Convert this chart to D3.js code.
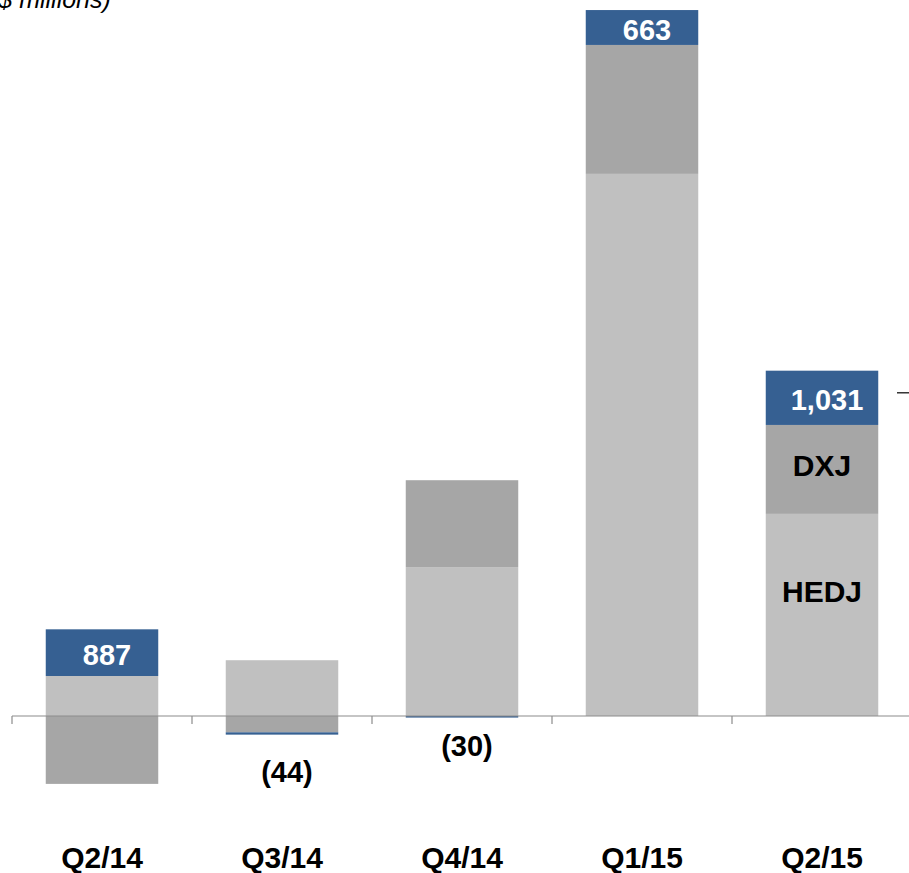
<!DOCTYPE html>
<html>
<head>
<meta charset="utf-8">
<script src="https://cdn.jsdelivr.net/npm/d3@7"></script>
<style>
    html, body { margin: 0; padding: 0; background: #fff; }
    #chart { width: 909px; height: 873px; overflow: hidden; }
    text { font-family: Arial, "Liberation Sans", sans-serif; }
</style>
</head>
<body>
<div id="chart"></div>
<script>
// Quartale und Zuflüsse in $ Mio. (aus dem Bild abgeschätzt)
const quarters = ["Q2/14", "Q3/14", "Q4/14", "Q1/15", "Q2/15"];
const hedj = [760, 1060, 2830, 10300, 3840];
const dxj = [-1290, -310, 1650, 2450, 1690];
const other = [887, -44, -30, 663, 1031];
const otherLabels = ["887", "(44)", "(30)", "663", "1,031"];

const keys = ["HEDJ", "DXJ", "Other"];
const colors = { HEDJ: "#c0c0c0", DXJ: "#a6a6a6", Other: "#366092" };

const rows = quarters.map((q, i) => ({ quarter: q, HEDJ: hedj[i], DXJ: dxj[i], Other: other[i] }));

function renderChart() {
    const container = document.getElementById("chart");
    const width = 909, height = 873;
    const zeroY = 716;

    const svg = d3.select(container)
        .append("svg")
        .attr("width", width)
        .attr("height", height);

    // ca. 19 $ Mio. pro Pixel, Nulllinie bei 716
    const perPx = 19;
    const y = d3.scaleLinear()
        .domain([-(height - zeroY) * perPx, zeroY * perPx])
        .range([height, 0]);

    const x = d3.scaleBand()
        .domain(quarters)
        .range([12, 912])
        .paddingInner(0.375)
        .paddingOuter(0.1875);

    const series = d3.stack()
        .keys(keys)
        .offset(d3.stackOffsetDiverging)(rows);

    svg.append("g")
        .selectAll("g")
        .data(series)
        .join("g")
        .attr("fill", s => colors[s.key])
        .selectAll("rect")
        .data(s => s)
        .join("rect")
        .attr("x", d => x(d.data.quarter))
        .attr("y", d => y(Math.max(d[0], d[1])))
        .attr("width", x.bandwidth())
        .attr("height", d => Math.abs(y(d[0]) - y(d[1])));

    // Achse mit Ticks zwischen den Kategorien
    const axis = svg.append("g");
    axis.append("line")
        .attr("x1", 12).attr("x2", width)
        .attr("y1", y(0)).attr("y2", y(0))
        .attr("stroke", "#8c8c8c")
        .attr("stroke-width", 1.2);
    axis.selectAll("line.tick")
        .data(quarters)
        .join("line")
        .attr("class", "tick")
        .attr("x1", d => x(d) - x.step() * x.paddingOuter())
        .attr("x2", d => x(d) - x.step() * x.paddingOuter())
        .attr("y1", y(0))
        .attr("y2", y(0) + 8)
        .attr("stroke", "#8c8c8c")
        .attr("stroke-width", 1.2);

    const cx = d => x(d) + x.bandwidth() / 2;
    const otherSeries = series.find(s => s.key === "Other");

    // Beschriftungen der "Other"-Segmente
    svg.append("g")
        .selectAll("text")
        .data(otherSeries)
        .join("text")
        .attr("x", d => cx(d.data.quarter) + 5)
        .attr("y", d => {
            const top = Math.max(d[0], d[1]);
            const bottom = Math.min(d[0], d[1]);
            if (d.data.Other > 0) return (y(top) + y(bottom)) / 2 + 12;
            return y(bottom) + (d.data.DXJ < 0 ? 47 : 38);
        })
        .attr("text-anchor", "middle")
        .attr("font-size", 29)
        .attr("font-weight", "bold")
        .attr("fill", d => d.data.Other > 0 ? "#fff" : "#000")
        .text((d, i) => otherLabels[i]);

    // Segmentnamen in der letzten Säule
    const last = quarters.length - 1;
    const hedjSeg = series[0][last];
    const dxjSeg = series[1][last];
    svg.append("text")
        .attr("x", cx(quarters[last]))
        .attr("y", (y(dxjSeg[0]) + y(dxjSeg[1])) / 2 + 7)
        .attr("text-anchor", "middle")
        .attr("font-size", 30)
        .attr("font-weight", "bold")
        .text("DXJ");
    svg.append("text")
        .attr("x", cx(quarters[last]))
        .attr("y", (y(hedjSeg[0]) + y(hedjSeg[1])) / 2 - 13)
        .attr("text-anchor", "middle")
        .attr("font-size", 30)
        .attr("font-weight", "bold")
        .text("HEDJ");

    // Kategorien
    svg.append("g")
        .selectAll("text")
        .data(quarters)
        .join("text")
        .attr("x", d => cx(d))
        .attr("y", 868)
        .attr("text-anchor", "middle")
        .attr("font-size", 30)
        .attr("font-weight", "bold")
        .text(d => d);

    // Einheit (oben abgeschnitten wie im Original)
    svg.append("text")
        .attr("x", -10)
        .attr("y", 8)
        .attr("font-size", 25)
        .attr("font-style", "italic")
        .text("($ millions)");

    // kurzer Strich rechts neben der letzten Säule
    const otherLast = otherSeries[last];
    const markY = (y(otherLast[0]) + y(otherLast[1])) / 2 - 5;
    svg.append("line")
        .attr("x1", 897).attr("x2", width)
        .attr("y1", markY)
        .attr("y2", markY)
        .attr("stroke", "#000")
        .attr("stroke-width", 1.2);
}

renderChart();
</script>
</body>
</html>
